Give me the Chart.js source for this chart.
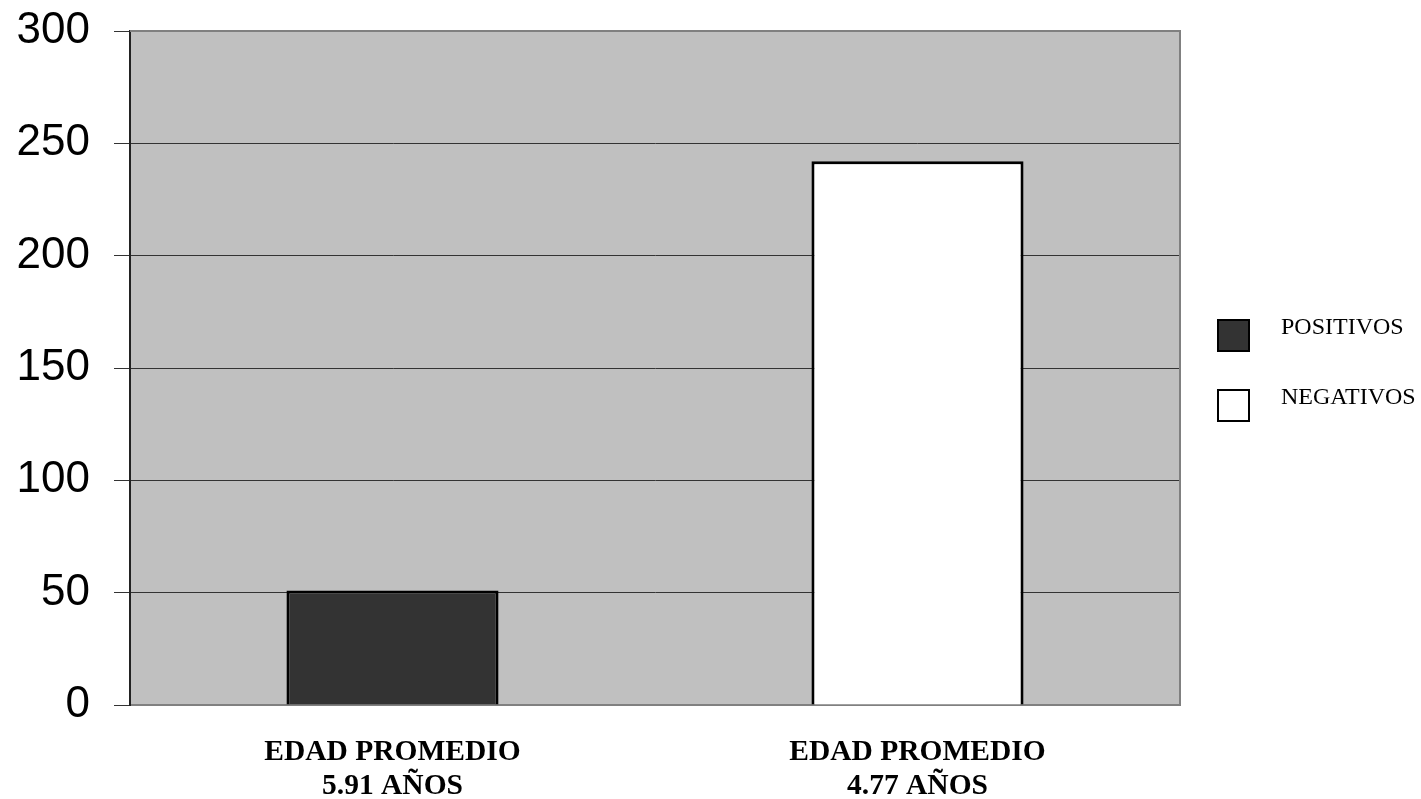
<!DOCTYPE html>
<html>
<head>
<meta charset="utf-8">
<title>Edad promedio</title>
<script src="https://cdn.jsdelivr.net/npm/chart.js@4/dist/chart.umd.min.js"></script>
<style>
  html, body { margin: 0; padding: 0; background: #ffffff; }
  #wrap { width: 1421px; height: 799px; position: relative; }
</style>
</head>
<body>
<div id="wrap"><canvas id="chart" width="1421" height="799"></canvas></div>
<script>
// Category labels (two lines each)
const categories = [
  ['EDAD PROMEDIO', '5.91 AÑOS'],
  ['EDAD PROMEDIO', '4.77 AÑOS']
];
// Series
const seriesNames = ['POSITIVOS', 'NEGATIVOS'];
const positivos = [51, null];
const negativos = [null, 242];
// Value axis
const yTicks = [0, 50, 100, 150, 200, 250, 300];

const seriesColors = ['#333333', '#ffffff'];

// Plot background and top/right frame
const frame = {
  id: 'frame',
  beforeDraw(chart) {
    const { ctx, chartArea: a } = chart;
    ctx.save();
    ctx.fillStyle = '#c0c0c0';
    ctx.fillRect(a.left, a.top, a.right - a.left, a.bottom - a.top);
    ctx.restore();
  },
  afterDatasetsDraw(chart) {
    const { ctx, chartArea: a } = chart;
    ctx.save();
    ctx.strokeStyle = '#808080';
    ctx.lineWidth = 2;
    ctx.beginPath();
    ctx.moveTo(a.left, a.top);
    ctx.lineTo(a.right, a.top);
    ctx.lineTo(a.right, a.bottom);
    ctx.stroke();
    ctx.restore();
  }
};

// Legend on the right, built from the datasets
const sideLegend = {
  id: 'sideLegend',
  afterDraw(chart) {
    const { ctx } = chart;
    const x0 = 1218, size = 31, textX = 1281;
    const rows = [320, 390];
    ctx.save();
    chart.data.datasets.forEach((ds, i) => {
      const y = rows[i];
      ctx.fillStyle = ds.backgroundColor;
      ctx.fillRect(x0, y, size, size);
      ctx.strokeStyle = '#000000';
      ctx.lineWidth = 2;
      ctx.strokeRect(x0, y, size, size);
      ctx.fillStyle = '#000000';
      ctx.font = '24px "Liberation Serif", "Times New Roman", serif';
      ctx.textBaseline = 'alphabetic';
      ctx.textAlign = 'left';
      ctx.fillText(ds.label, textX, y + 13.5);
    });
    ctx.restore();
  }
};

new Chart(document.getElementById('chart'), {
  type: 'bar',
  data: {
    labels: categories,
    datasets: [
      { label: seriesNames[0], data: positivos, backgroundColor: seriesColors[0] },
      { label: seriesNames[1], data: negativos, backgroundColor: seriesColors[1] }
    ]
  },
  options: {
    responsive: false,
    animation: false,
    devicePixelRatio: 1,
    layout: { padding: { left: 0, top: 31, right: 241, bottom: 0 } },
    datasets: {
      bar: {
        skipNull: true,
        borderColor: '#000000',
        borderWidth: 3,
        barPercentage: 0.404,
        categoryPercentage: 1
      }
    },
    plugins: {
      legend: { display: false },
      tooltip: { enabled: false }
    },
    scales: {
      x: {
        grid: { display: false, drawTicks: false },
        border: { display: true, color: '#808080', width: 2 },
        ticks: {
          color: '#000000',
          padding: 30,
          maxRotation: 0,
          font: { family: '"Liberation Serif", "Times New Roman", serif', size: 29.5, weight: 'bold', lineHeight: 1.15 }
        },
        afterFit(scale) { scale.height = 94; scale.paddingLeft = 0; scale.paddingRight = 0; }
      },
      y: {
        min: 0,
        max: 300,
        afterBuildTicks(scale) { scale.ticks = yTicks.map(v => ({ value: v })); },
        grid: {
          color(c) { return (c.tick && (c.tick.value === 300 || c.tick.value === 0)) ? '#808080' : '#333333'; },
          lineWidth: 1,
          drawTicks: true,
          tickLength: 16,
          tickColor: '#333333'
        },
        border: { display: true, color: '#222222', width: 2 },
        ticks: {
          color: '#000000',
          padding: 24,
          font: { family: '"Liberation Sans", Arial, sans-serif', size: 44 }
        },
        afterFit(scale) { scale.width = 130; scale.paddingTop = 0; scale.paddingBottom = 0; }
      }
    }
  },
  plugins: [frame, sideLegend]
});
</script>
</body>
</html>
